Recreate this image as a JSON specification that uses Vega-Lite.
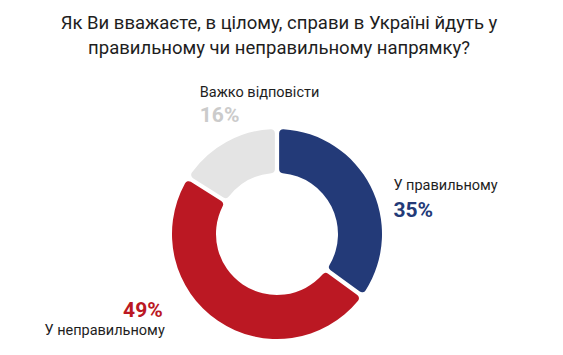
{
  "$schema": "https://vega.github.io/schema/vega-lite/v6.json",
  "width": 554,
  "height": 210,
  "autosize": "none",
  "padding": {"left": 0, "top": 129, "right": 9, "bottom": 16},
  "background": "white",
  "title": {
    "text": ["Як Ви вважаєте, в цілому, справи в Україні йдуть у", "правильному чи неправильному напрямку?"],
    "anchor": "middle",
    "frame": "group",
    "fontSize": 18.5,
    "font": "Roboto",
    "fontWeight": "normal",
    "color": "#1e1e1e",
    "lineHeight": 25,
    "offset": 28,
    "dx": 2
  },
  "data": {
    "values": [
      {"cat": "У правильному", "value": 35, "pct": "35%", "order": 1},
      {"cat": "У неправильному", "value": 49, "pct": "49%", "order": 2},
      {"cat": "Важко відповісти", "value": 16, "pct": "16%", "order": 3}
    ]
  },
  "encoding": {
    "theta": {"field": "value", "type": "quantitative", "stack": true},
    "order": {"field": "order", "type": "quantitative"}
  },
  "layer": [
    {
      "mark": {"type": "arc", "innerRadius": 61, "outerRadius": 105, "padAngle": 0.035, "cornerRadius": 4},
      "encoding": {
        "color": {
          "field": "cat",
          "type": "nominal",
          "scale": {"domain": ["У правильному", "У неправильному", "Важко відповісти"], "range": ["#233a78", "#bb1823", "#e4e4e4"]},
          "legend": null
        }
      }
    },
    {
      "mark": {"type": "text", "radius": 125, "align": "left", "baseline": "alphabetic", "dx": 5, "dy": 13, "fontSize": 14.5, "font": "Roboto", "color": "#1e1e1e"},
      "encoding": {"text": {"condition": {"test": "datum.order === 1", "field": "cat"}, "value": ""}}
    },
    {
      "mark": {"type": "text", "radius": 125, "align": "left", "baseline": "alphabetic", "dx": 5, "dy": 40, "fontSize": 21, "fontWeight": "bold", "font": "Roboto", "color": "#233a78"},
      "encoding": {"text": {"condition": {"test": "datum.order === 1", "field": "pct"}, "value": ""}}
    },
    {
      "mark": {"type": "text", "radius": 125, "align": "right", "baseline": "alphabetic", "dx": -42, "dy": -2, "fontSize": 14.5, "font": "Roboto", "color": "#1e1e1e"},
      "encoding": {"text": {"condition": {"test": "datum.order === 2", "field": "cat"}, "value": ""}}
    },
    {
      "mark": {"type": "text", "radius": 125, "align": "right", "baseline": "alphabetic", "dx": -44, "dy": -20, "fontSize": 21, "fontWeight": "bold", "font": "Roboto", "color": "#bb1823"},
      "encoding": {"text": {"condition": {"test": "datum.order === 2", "field": "pct"}, "value": ""}}
    },
    {
      "mark": {"type": "text", "radius": 125, "align": "left", "baseline": "alphabetic", "dx": -17, "dy": -27, "fontSize": 14.5, "font": "Roboto", "color": "#1e1e1e"},
      "encoding": {"text": {"condition": {"test": "datum.order === 3", "field": "cat"}, "value": ""}}
    },
    {
      "mark": {"type": "text", "radius": 125, "align": "left", "baseline": "alphabetic", "dx": -17, "dy": -2, "fontSize": 21, "fontWeight": "bold", "font": "Roboto", "color": "#cbcbcb"},
      "encoding": {"text": {"condition": {"test": "datum.order === 3", "field": "pct"}, "value": ""}}
    }
  ]
}
